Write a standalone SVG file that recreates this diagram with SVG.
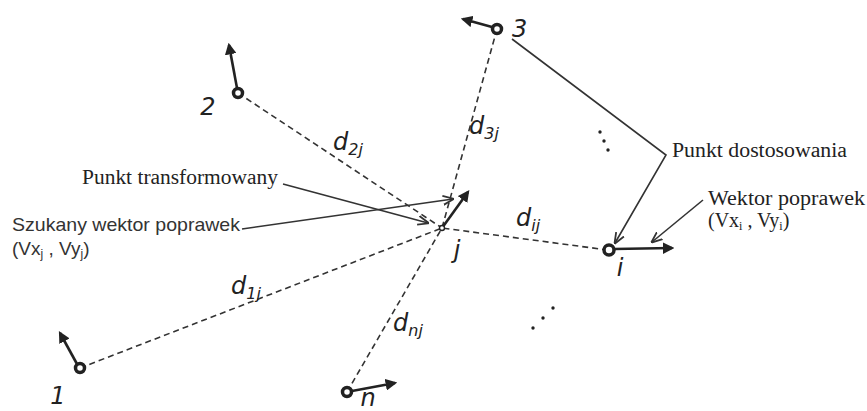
<svg xmlns="http://www.w3.org/2000/svg" width="867" height="411" viewBox="0 0 867 411">
<style>
.dash{stroke:#333;stroke-width:1.6;stroke-dasharray:6 4;fill:none}
.vec{stroke:#222;stroke-width:2.6;fill:none;marker-end:url(#vh)}
.ptr{stroke:#333;stroke-width:1.6;fill:none;marker-end:url(#ph)}
.node{fill:#fff;stroke:#222;stroke-width:3.5}
.serif{font-family:"Liberation Serif","Times New Roman",serif;font-size:20px;fill:#222}
.sans{font-family:"Liberation Sans",Arial,sans-serif;font-size:19px;fill:#333}
.hand{font-family:"DejaVu Sans","Liberation Sans",sans-serif;font-style:italic;font-size:24px;fill:#222}
.sub{font-size:16px}
.dot{fill:#222}
</style>
<defs>
<marker id="vh" viewBox="0 0 10 10" refX="8" refY="5" markerWidth="4.5" markerHeight="4.5" orient="auto" markerUnits="strokeWidth">
<path d="M0,0 L10,5 L0,10 z" fill="#222"/>
</marker>
<marker id="ph" viewBox="0 0 10 10" refX="9" refY="5" markerWidth="7" markerHeight="7" orient="auto" markerUnits="strokeWidth">
<path d="M0,1 L10,5 L0,9" fill="none" stroke="#333" stroke-width="1.6"/>
</marker>
</defs>
<g id="connectors">
<line class="dash" x1="238" y1="93" x2="442" y2="228"/>
<line class="dash" x1="497" y1="29" x2="442" y2="228"/>
<line class="dash" x1="608" y1="250" x2="442" y2="228"/>
<line class="dash" x1="80" y1="368" x2="442" y2="228"/>
<line class="dash" x1="347" y1="392" x2="442" y2="228"/>
<line class="ptr" x1="283" y1="184" x2="428" y2="223"/>
<line class="ptr" x1="242" y1="229" x2="453" y2="199"/>
<polyline class="ptr" points="512,39 666,155 615,243"/>
<line class="ptr" x1="703" y1="200" x2="652" y2="242"/>
</g>
<g id="node-2">
<line class="vec" x1="237" y1="88" x2="229" y2="45"/>
<circle class="node" cx="238" cy="93" r="4.5"/>
<text class="hand" x="208" y="115" text-anchor="middle" font-size="18">2</text>
</g>
<g id="node-3">
<line class="vec" x1="492" y1="27" x2="463" y2="19"/>
<circle class="node" cx="497" cy="29" r="4.5"/>
<text class="hand" x="512" y="37" font-size="19" font-style="normal">3</text>
</g>
<g id="node-1">
<line class="vec" x1="77" y1="364" x2="60" y2="333"/>
<circle class="node" cx="80" cy="368" r="4.5"/>
<text class="hand" x="58" y="404" text-anchor="middle" font-size="18">1</text>
</g>
<g id="node-n">
<line class="vec" x1="352" y1="391" x2="395" y2="383"/>
<circle class="node" cx="347" cy="392" r="4.5"/>
<text class="hand" x="368" y="406" text-anchor="middle" font-size="16">n</text>
</g>
<g id="node-i">
<line class="vec" x1="614" y1="249" x2="672" y2="248"/>
<circle class="node" cx="609" cy="250" r="5"/>
<text class="hand" x="620" y="276" text-anchor="middle" font-size="20">i</text>
</g>
<g id="node-j">
<line class="vec" x1="442" y1="228" x2="468" y2="192"/>
<circle cx="442" cy="228" r="2.5" fill="#fff" stroke="#222" stroke-width="1.4"/>
<text class="hand" x="457" y="258" text-anchor="middle" font-size="20">j</text>
</g>
<g id="distance-labels">
<text class="hand" x="333" y="150">d<tspan class="sub" dy="5">2j</tspan></text>
<text class="hand" x="469" y="134">d<tspan class="sub" dy="5">3j</tspan></text>
<text class="hand" x="516" y="226">d<tspan class="sub" dy="5">ij</tspan></text>
<text class="hand" x="231" y="294">d<tspan class="sub" dy="5">1j</tspan></text>
<text class="hand" x="393" y="331">d<tspan class="sub" dy="5">nj</tspan></text>
</g>
<g id="dots">
<circle class="dot" cx="600" cy="132" r="1.7"/>
<circle class="dot" cx="604" cy="141" r="1.7"/>
<circle class="dot" cx="608" cy="150" r="1.7"/>
<circle class="dot" cx="533" cy="328" r="1.7"/>
<circle class="dot" cx="543" cy="318" r="1.7"/>
<circle class="dot" cx="553" cy="308" r="1.7"/>
</g>
<g id="annotations">
<text class="serif" x="82" y="184" textLength="196" lengthAdjust="spacingAndGlyphs">Punkt transformowany</text>
<text class="serif" x="672" y="157" textLength="175" lengthAdjust="spacingAndGlyphs">Punkt dostosowania</text>
<text class="serif" x="708" y="205" textLength="157" lengthAdjust="spacingAndGlyphs">Wektor poprawek</text>
<text class="serif" x="708" y="227">(Vx<tspan font-size="12" dy="3">i</tspan><tspan dy="-3">  , Vy</tspan><tspan font-size="12" dy="3">i</tspan><tspan dy="-3">)</tspan></text>
<text class="sans" x="12" y="231" textLength="228" lengthAdjust="spacingAndGlyphs">Szukany wektor poprawek</text>
<text class="sans" x="12" y="255">(Vx<tspan font-size="12" dy="3">j</tspan><tspan dy="-3">  , Vy</tspan><tspan font-size="12" dy="3">j</tspan><tspan dy="-3">)</tspan></text>
</g>
</svg>
